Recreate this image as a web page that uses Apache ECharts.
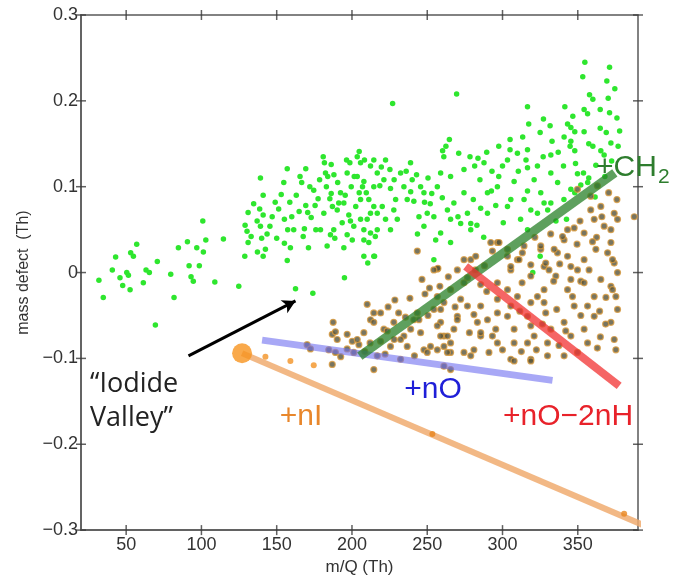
<!DOCTYPE html>
<html>
<head>
<meta charset="utf-8">
<script src="https://cdn.jsdelivr.net/npm/echarts@6/dist/echarts.min.js"></script>
<style>
html,body{margin:0;padding:0;background:#fff;}
#chart{width:676px;height:581px;background:#fff;}
</style>
</head>
<body>
<div id="chart"></div>
<script>
// ---- axis ticks / labels ----
const xRange = [20, 390];
const yRange = [-0.3, 0.3];
const xTicks = [50, 100, 150, 200, 250, 300, 350];
const yTicks = [-0.3, -0.2, -0.1, 0, 0.1, 0.2, 0.3];
const yTickLabels = ['\u22120.3', '\u22120.2', '\u22120.1', '0', '0.1', '0.2', '0.3'];

// ---- green points (m/Q, mass defect) ----
const greenLeft = [[31.9,-0.009],[34.8,-0.029],[40.8,0.003],[43.0,0.018],[45.9,-0.006],[47.7,-0.015],[50.4,0.000],[51.5,-0.003],[52.6,-0.020],[53.0,0.023],[54.8,0.019],[57.0,0.033],[61.4,-0.012],[63.2,0.003],[65.4,0.000],[69.4,-0.061],[70.7,0.013],[79.6,-0.002],[81.8,-0.029],[84.7,0.029],[90.7,0.036],[91.8,0.008],[93.1,-0.005],[94.6,-0.010],[96.9,0.029],[98.6,0.008],[100.9,0.060],[101.3,0.024],[102.9,0.038],[108.9,-0.011],[114.6,0.039],[124.8,-0.016],[128.8,0.019],[129.0,0.055]];
const greenMid = [[130.3,0.048],[131.0,0.070],[131.0,0.035],[133.0,0.042],[134.7,0.080],[137.0,0.060],[137.2,0.024],[138.7,0.074],[139.2,0.110],[139.2,0.054],[140.0,0.040],[141.0,0.019],[141.0,0.067],[141.0,0.090],[142.5,0.027],[143.6,0.045],[147.0,0.065],[151.3,0.074],[153.0,0.091],[154.7,0.105],[155.1,0.062],[155.1,0.034],[157.0,0.121],[157.3,0.050],[157.0,0.014],[159.1,0.029],[158.7,0.082],[160.0,0.065],[161.3,0.050],[164.9,0.071],[166.6,0.105],[167.6,0.042],[169.3,0.121],[168.4,0.051],[169.3,0.078],[170.6,0.070],[171.1,0.029],[172.0,0.100],[172.9,0.064],[174.6,0.096],[175.5,0.078],[176.0,0.050],[162.5,-0.019],[174.0,-0.024],[179.1,0.050],[181.3,0.069],[185.7,0.044],[183.5,0.031],[196.8,0.044],[200.2,0.038],[149.0,0.082],[145.5,0.054],[163.0,0.090],[165.5,0.112],[150.0,0.040],[177.5,0.086],[178.5,0.108]];
const greenDense = [[180.9,0.135],[181.7,0.128],[182.4,0.116],[183.0,0.100],[183.9,0.112],[185.3,0.086],[186.2,0.092],[187.0,0.077],[187.9,0.050],[188.6,0.040],[190.2,0.073],[191.2,0.081],[194.6,0.029],[195.0,-0.006],[195.5,0.090],[196.8,0.116],[198.6,0.128],[199.5,0.100],[201.2,0.054],[202.5,0.077],[203.5,0.135],[204.8,0.141],[204.8,0.093],[205.7,0.085],[207.0,0.100],[207.9,0.038],[208.3,0.131],[210.1,0.062],[210.5,0.011],[212.3,0.124],[214.5,0.077],[215.0,0.019],[215.5,0.042],[186.2,0.126],[188.0,0.114],[196.4,0.131],[205.7,0.128],[203.5,0.112],[207.9,0.106],[192.4,0.093],[194.6,0.081],[197.9,0.067],[205.7,0.062],[207.9,0.050],[211.2,0.085],[212.3,0.069],[211.2,0.035],[207.9,0.019],[222.3,0.131],[225.2,0.120],[242.9,0.114],[222.3,0.062],[229.0,0.085],[247.8,0.054],[254.4,0.065],[255.6,0.038],[258.9,0.046],[220.1,0.077],[190.5,0.105],[193.5,0.058],[199.0,0.060],[201.5,0.112],[209.5,0.093],[218.5,0.101],[219.5,0.123],[228.0,0.108],[236.0,0.118],[240.0,0.108],[250.5,0.110],[253.0,0.092],[239.0,0.094],[243.5,0.045],[252.0,0.080]];
const greenRight = [[227.0,0.197],[269.5,0.208],[354.7,0.245],[371.1,0.239],[353.3,0.228],[369.3,0.223],[374.6,0.214],[357.8,0.207],[370.2,0.203],[360.0,0.202],[316.6,0.193],[341.4,0.193],[346.7,0.182],[354.2,0.190],[356.5,0.185],[364.9,0.190],[371.1,0.186],[376.0,0.180],[327.2,0.179],[331.6,0.171],[317.4,0.173],[343.2,0.173],[345.4,0.169],[348.0,0.164],[354.2,0.164],[364.9,0.168],[368.9,0.163],[377.8,0.165],[313.4,0.158],[305.0,0.155],[325.0,0.163],[332.9,0.153],[340.9,0.158],[345.4,0.153],[344.9,0.147],[348.0,0.142],[357.3,0.150],[360.0,0.147],[365.3,0.142],[367.5,0.137],[372.0,0.151],[376.8,0.147],[264.7,0.155],[262.4,0.147],[260.2,0.142],[270.9,0.139],[278.4,0.135],[283.7,0.133],[287.7,0.128],[281.5,0.124],[305.0,0.143],[303.3,0.131],[309.9,0.139],[316.6,0.143],[315.6,0.131],[316.6,0.122],[323.2,0.124],[332.1,0.137],[332.1,0.116],[340.5,0.124],[348.5,0.127],[349.8,0.115],[353.8,0.116],[357.3,0.110],[345.4,0.097],[348.0,0.093],[352.0,0.102],[214.5,0.131],[216.8,0.116],[221.2,0.108],[225.6,0.098],[232.3,0.116],[238.9,0.128],[234.5,0.100],[236.7,0.085],[245.6,0.100],[247.8,0.093],[248.2,0.082],[250.0,0.069],[241.1,0.083],[244.5,0.065],[256.7,0.100],[258.9,0.116],[260.0,0.087],[263.4,0.073],[265.5,0.062],[267.7,0.081],[270.4,0.065],[272.2,0.057],[276.7,0.069],[278.9,0.057],[278.9,0.050],[280.6,0.085],[285.5,0.075],[290.0,0.069],[292.6,0.095],[296.6,0.100],[297.5,0.112],[303.3,0.077],[305.5,0.085],[307.7,0.106],[314.3,0.085],[316.6,0.095],[323.2,0.069],[327.6,0.081],[332.1,0.081],[214.5,0.100],[216.8,0.069],[212.3,0.046],[216.8,0.050],[227.8,0.073],[230.1,0.062],[225.6,0.050],[214.5,0.019],[265.5,0.035],[254.4,0.015],[325.0,0.019],[320.1,0.000],[287.5,0.041],[316.6,0.050],[318.8,0.073],[330.0,0.073],[336.6,0.105],[340.8,0.085],[356.6,0.105],[274.4,0.093],[265.5,0.112],[261.0,0.135],[274.4,0.120],[290.0,0.093],[325.4,0.093],[285.0,0.108],[293.0,0.118],[300.0,0.124],[310.5,0.118],[321.0,0.108],[327.0,0.135],[337.0,0.140],[362.0,0.125],[372.5,0.130],[368.0,0.112],[361.5,0.088],[335.5,0.060],[342.5,0.062],[312.0,0.062],[300.5,0.058],[283.0,0.055],[295.5,0.078],[289.5,0.140],[297.5,0.147]];

// ---- brown points ----
const brownUpper = [[243.4,0.025],[256.7,0.004],[278.9,0.015],[276.7,-0.006],[285.5,-0.014],[296.6,0.035],[303.3,0.019],[305.5,0.003],[309.9,0.015],[314.3,0.031],[318.8,-0.004],[325.4,0.027],[327.6,0.007],[335.4,-0.004],[336.5,0.023],[340.9,0.038],[343.2,0.019],[345.4,0.007],[352.0,-0.010],[354.2,0.046],[358.6,0.073],[360.9,0.062],[365.3,0.077],[367.5,0.054],[372.0,0.050],[374.2,0.069],[376.4,0.062],[369.8,0.023],[374.2,0.011],[376.4,0.000],[372.0,-0.016],[387.5,0.065],[349.8,0.097],[358.6,0.089],[257.1,0.005],[363.0,0.101],[370.5,0.093],[376.0,0.085],[366.0,0.065],[351.5,0.060],[362.5,0.041],[349.5,0.033],[332.0,0.045],[321.5,0.041]];
const brownMid = [[297.7,0.035],[274.4,0.015],[282.2,0.019],[293.3,0.025],[303.3,0.027],[311.0,0.015],[313.2,0.023],[318.8,0.009],[325.4,0.031],[328.7,0.011],[330.9,0.003],[334.3,0.027],[339.9,0.042],[343.2,0.050],[347.6,0.052],[359.8,0.036],[372.0,0.035],[373.1,0.015],[354.2,0.015],[357.5,0.003],[362.0,0.027],[365.3,-0.008],[368.7,-0.029],[373.1,-0.020],[375.3,-0.028],[376.4,-0.043],[372.0,-0.058],[374.2,-0.078],[375.3,-0.090],[360.9,-0.028],[356.5,-0.039],[360.9,-0.051],[354.2,-0.012],[349.8,0.003],[345.4,-0.008],[343.2,-0.020],[346.5,-0.028],[347.6,-0.039],[354.2,-0.066],[356.5,-0.082],[340.9,-0.058],[342.0,-0.068],[345.4,-0.074],[349.8,-0.093],[340.9,-0.097],[329.9,-0.082],[332.1,-0.066],[326.5,-0.060],[328.7,-0.047],[327.6,-0.035],[327.6,-0.020],[323.2,-0.028],[318.8,-0.035],[316.6,-0.051],[318.8,-0.062],[321.0,-0.074],[316.6,-0.082],[318.8,-0.101],[305.5,-0.101],[307.7,-0.082],[307.7,-0.066],[303.3,-0.051],[305.5,-0.039],[309.9,-0.028],[303.3,-0.020],[296.6,-0.012],[296.6,-0.031],[296.6,-0.047],[295.5,-0.066],[293.3,-0.074],[291.0,-0.093],[281.0,-0.090],[285.5,-0.074],[283.3,-0.058],[281.0,-0.049],[285.5,-0.039],[276.7,-0.039],[272.2,-0.031],[270.0,-0.051],[267.7,-0.066],[265.5,-0.082],[261.1,-0.074],[258.9,-0.058],[258.9,-0.043],[256.7,-0.028],[265.5,-0.020],[274.4,-0.012],[270.0,0.003],[254.4,0.003],[274.4,-0.093],[265.5,-0.093],[256.7,-0.090],[305.5,0.007],[292.2,0.035],[364.5,-0.045],[368.5,-0.060],[365.0,-0.075],[363.0,-0.088],[336.0,-0.043],[337.5,-0.085],[334.0,-0.010],[313.0,-0.012],[289.5,-0.022],[290.0,-0.055],[278.0,-0.070],[300.0,-0.090],[312.5,-0.092],[322.5,-0.090],[311.5,-0.045],[338.0,0.010],[282.0,0.003],[288.0,0.008],[352.0,-0.050]];
const brownLeft = [[187.5,-0.058],[186.9,-0.072],[190.2,-0.078],[186.9,-0.107],[170.2,-0.084],[172.4,-0.089],[184.6,-0.090],[189.0,-0.093],[196.8,-0.089],[201.2,-0.093],[200.2,-0.080],[204.6,-0.084],[207.9,-0.070],[210.1,-0.037],[212.3,-0.055],[214.5,-0.113],[216.8,-0.097],[219.0,-0.080],[221.2,-0.066],[225.6,-0.086],[232.3,-0.101],[234.5,-0.074],[236.7,-0.086],[241.1,-0.055],[243.4,-0.047],[245.6,-0.070],[247.8,-0.090],[250.0,-0.093],[256.7,-0.062],[258.9,-0.074],[261.1,-0.086],[263.4,-0.093],[261.1,-0.109],[265.5,-0.113],[270.0,-0.055],[278.9,-0.097],[285.5,-0.070],[296.6,-0.082],[307.7,-0.103],[318.8,-0.103],[329.9,-0.097],[214.5,-0.047],[219.0,-0.047],[189.0,-0.069],[196.8,-0.072],[203.5,-0.078],[214.5,-0.058],[223.4,-0.068],[227.8,-0.058],[232.3,-0.078],[239.0,-0.066],[244.5,-0.055],[254.4,-0.043],[258.4,-0.016],[261.1,-0.035],[252.2,-0.086],[263.4,-0.074],[192.5,-0.098],[208.5,-0.092],[212.0,-0.082],[224.0,-0.040],[228.5,-0.032],[231.0,-0.047],[235.5,-0.052],[238.5,-0.030],[241.5,-0.097],[248.5,-0.025],[250.5,-0.050],[222.0,-0.095],[228.0,-0.078],[246.5,-0.008],[251.5,-0.018],[264.0,-0.005],[268.5,-0.040]];

// ---- orange (iodide) points ----
const iodideBig = [[127.0,-0.094]];
const iodideSmall = [[142.5,-0.098],[159.1,-0.103],[174.6,-0.108]];
const iodideOnLine = [[253.4,-0.188],[380.8,-0.281]];

// ---- guide lines ----
const lineNI = [[127.0,-0.094],[410.6,-0.307]];
const lineNO = [[140.3,-0.0787],[333.2,-0.1256]];
const lineCH2 = [[205.2,-0.0973],[374.6,0.116]];
const lineNO2nH = [[275.5,0.0073],[377.5,-0.132]];
const arrowLine = [[91.4,-0.097],[162.5,-0.033]];

const FONT = "'Liberation Sans', Arial, Helvetica, sans-serif";
const chart = echarts.init(document.getElementById('chart'));

function yLabel(v) {
  let best = 0, bd = 1e9;
  yTicks.forEach((t, i) => { const d = Math.abs(t - v); if (d < bd) { bd = d; best = i; } });
  return yTickLabels[best];
}
const TICK_PX = 5;
const TICK_COLOR = '#3a3a3a';
// tick positions on the four edges of the box (values taken from the tick arrays)
const tickBottom = xTicks.map(v => [v, yRange[0]]);
const tickTop = xTicks.map(v => [v, yRange[1]]);
const tickLeft = yTicks.map(v => [xRange[0], v]);
const tickRight = yTicks.map(v => [xRange[1], v]);
function tickSeries(name, data, size, offset) {
  return {type: 'scatter', name: name, data: data, symbol: 'rect', symbolSize: size, symbolOffset: offset,
    clip: false, silent: true, z: 7, itemStyle: {color: TICK_COLOR}};
}
function axisCommon() {
  return {
    axisLine: {show: true, onZero: false, lineStyle: {color: '#5a5a5a', width: 1.5}},
    axisTick: {show: false},
    splitLine: {show: false}
  };
}

const option = {
  animation: false,
  grid: {left: 81, right: 38, top: 15, bottom: 50, containLabel: false,
         show: true, borderColor: '#5a5a5a', borderWidth: 1.5, backgroundColor: 'transparent'},
  xAxis: [
    Object.assign(axisCommon(), {type: 'value', min: xRange[0], max: xRange[1], position: 'bottom',
     axisLabel: {show: true, customValues: xTicks, fontSize: 18, color: '#333', fontFamily: FONT, margin: 6},
     name: 'm/Q (Th)', nameLocation: 'middle', nameGap: 27,
     nameTextStyle: {fontSize: 17, color: '#333', fontFamily: FONT}})
  ],
  yAxis: [
    Object.assign(axisCommon(), {type: 'value', min: yRange[0], max: yRange[1], interval: 0.1, position: 'left',
     axisLabel: {show: true, formatter: yLabel, fontSize: 18, color: '#333', fontFamily: FONT, margin: 3},
     name: 'mass defect  (Th)', nameLocation: 'middle', nameGap: 35,
     nameTextStyle: {fontSize: 16, color: '#333', fontFamily: FONT}})
  ],
  series: [
    {type: 'scatter', name: 'green', symbolSize: 5.5, z: 2,
     data: greenLeft.concat(greenMid, greenDense, greenRight),
     itemStyle: {color: '#2ee62e', opacity: 1}},
    {type: 'scatter', name: 'brown', symbolSize: 6, z: 2,
     data: brownUpper.concat(brownMid, brownLeft),
     itemStyle: {color: '#55533a', borderColor: '#d99b3e', borderWidth: 1.2}},
    {type: 'line', name: '+nI line', data: lineNI, clip: false, showSymbol: false, symbol: 'none', z: 3,
     lineStyle: {color: 'rgba(240,172,112,0.85)', width: 6}},
    {type: 'scatter', name: 'iodide small', data: iodideSmall, symbolSize: 6, z: 4,
     itemStyle: {color: '#f39224'}},
    {type: 'scatter', name: 'iodide on line', data: iodideOnLine, symbolSize: 6, z: 4, clip: false,
     itemStyle: {color: '#e8861e'}},
    {type: 'scatter', name: 'iodide', data: iodideBig, symbolSize: 20, z: 4,
     itemStyle: {color: '#f7931e'}},
    {type: 'line', name: '+nO line', data: lineNO, showSymbol: false, symbol: 'none', z: 5,
     lineStyle: {color: 'rgba(110,110,240,0.6)', width: 7}},
    {type: 'line', name: '+CH2 line', data: lineCH2, showSymbol: false, symbol: 'none', z: 5,
     lineStyle: {color: 'rgba(40,128,40,0.75)', width: 9}},
    {type: 'line', name: '+nO-2nH line', data: lineNO2nH, showSymbol: false, symbol: 'none', z: 5,
     lineStyle: {color: 'rgba(242,50,50,0.75)', width: 8}},
    {type: 'line', name: 'arrow', data: [], showSymbol: false, z: 6,
     markLine: {silent: true, animation: false, symbol: ['none', 'arrow'], symbolSize: [11, 13],
       label: {show: false}, lineStyle: {color: '#000', width: 3, type: 'solid'},
       data: [[{coord: arrowLine[0]}, {coord: arrowLine[1]}]]}},
    tickSeries('tick bottom', tickBottom, [1.5, TICK_PX * 2], [0, 0]),
    tickSeries('tick top', tickTop, [1.5, TICK_PX * 2], [0, 0]),
    tickSeries('tick left', tickLeft, [TICK_PX * 2, 1.5], [0, 0]),
    tickSeries('tick right', tickRight, [TICK_PX * 2, 1.5], [0, 0])
  ],
  graphic: [
    {type: 'text', x: 596, y: 168, z: 100, style: {text: '+CH', fontSize: 30, fontFamily: FONT, fill: '#2e7d2e', align: 'left', verticalAlign: 'middle'}},
    {type: 'text', x: 658, y: 177, z: 100, style: {text: '2', fontSize: 21, fontFamily: FONT, fill: '#2e7d2e', align: 'left', verticalAlign: 'middle'}},
    {type: 'text', x: 433, y: 390, z: 100, style: {text: '+nO', fontSize: 30, fontFamily: FONT, fill: '#1f1fd8', align: 'center', verticalAlign: 'middle'}},
    {type: 'text', x: 568, y: 417, z: 100, style: {text: '+nO\u22122nH', fontSize: 30, fontFamily: FONT, fill: '#e8222a', align: 'center', verticalAlign: 'middle'}},
    {type: 'text', x: 301, y: 417, z: 100, style: {text: '+nI', fontSize: 30, fontFamily: FONT, fill: '#e8872c', align: 'center', verticalAlign: 'middle'}},
    {type: 'text', x: 90, y: 384, z: 100, style: {text: '\u201cIodide', fontSize: 27, fontFamily: "'Open Sans', Lato, sans-serif", fill: '#222', align: 'left', verticalAlign: 'middle'}},
    {type: 'text', x: 90, y: 418, z: 100, style: {text: 'Valley\u201d', fontSize: 27, fontFamily: "'Open Sans', Lato, sans-serif", fill: '#222', align: 'left', verticalAlign: 'middle'}}
  ]
};
chart.setOption(option);
</script>
</body>
</html>
